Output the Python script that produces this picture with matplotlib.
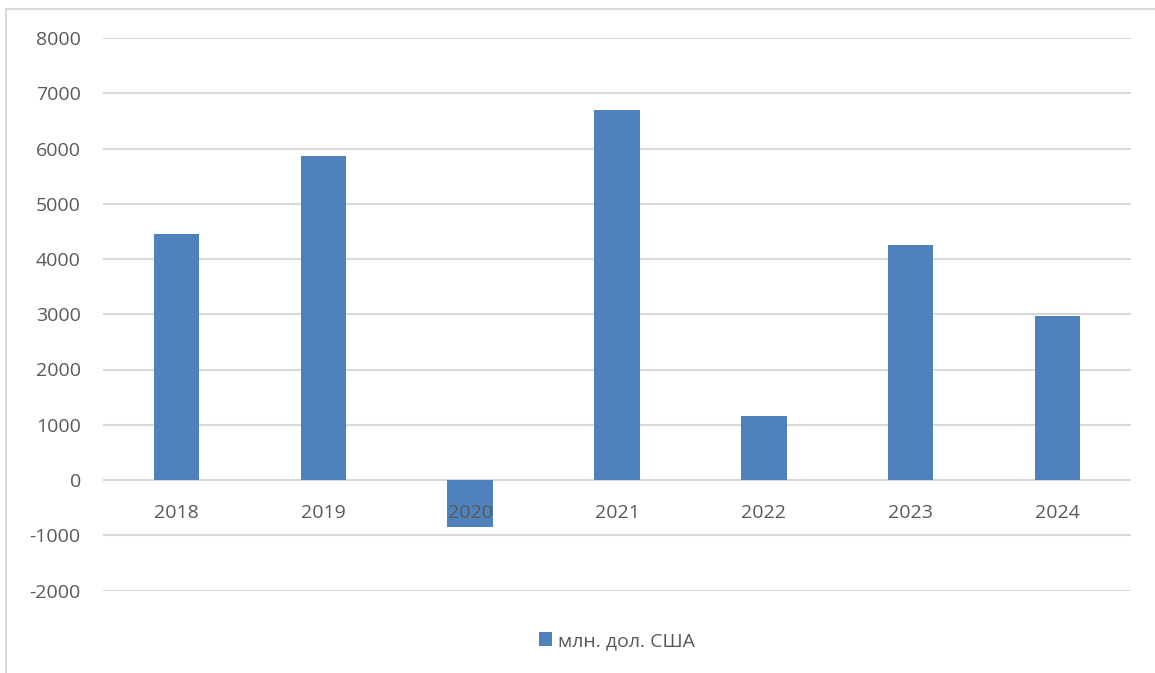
import numpy as np
from matplotlib import pyplot as plt
from matplotlib.patches import Rectangle

years = ['2018', '2019', '2020', '2021', '2022', '2023', '2024']
values = [4450, 5860, -850, 6690, 1150, 4250, 2960]
series_name = 'млн. дол. США'

plt.rcParams['font.family'] = ['Open Sans', 'DejaVu Sans']
plt.rcParams['axes.unicode_minus'] = False
text_color = '#595959'
grid_color = '#d9d9d9'
bar_color = '#4f81bd'

W, H = 1155, 673
fig = plt.figure(figsize=(W / 100, H / 100), dpi=100)

# chart frame (cut off on the right and bottom)
fig.patches.append(Rectangle((6 / W, -0.1), 1.2, 1 - 9 / H + 0.1, transform=fig.transFigure,
                             fill=False, edgecolor=grid_color, linewidth=1.5))

ax = fig.add_axes([103 / W, 1 - 590.5 / H, (1131 - 103) / W, (590.5 - 38) / H])
x = np.arange(len(years))
yticks = np.arange(-2000, 8001, 1000)

# grid lines under the bars, tick labels above them
for yt in yticks:
    ax.axhline(yt, color=grid_color, linewidth=1.5, zorder=0)
ax.bar(x, values, width=0.31, color=bar_color, label=series_name, zorder=2)
ax.set_axisbelow(False)

ax.set_xlim(-0.5, len(years) - 0.5)
ax.set_ylim(-2000, 8000)
ax.set_yticks(yticks)
for s in ax.spines.values():
    s.set_visible(False)
ax.spines['bottom'].set_position(('data', 0))

ax.set_xticks(x)
ax.set_xticklabels(years)
ax.tick_params(axis='x', length=0, pad=17, labelsize=14, labelcolor=text_color)
ax.tick_params(axis='y', length=0, pad=16, labelsize=14, labelcolor=text_color)

ax.legend(loc='center', bbox_to_anchor=(0.5, (1 - 641 / H - (1 - 590.5 / H)) / ((590.5 - 38) / H)),
          frameon=False, fontsize=14, labelcolor=text_color, handlelength=0.7,
          handleheight=0.7, handletextpad=0.3)

fig.savefig('out.png', dpi=100)
